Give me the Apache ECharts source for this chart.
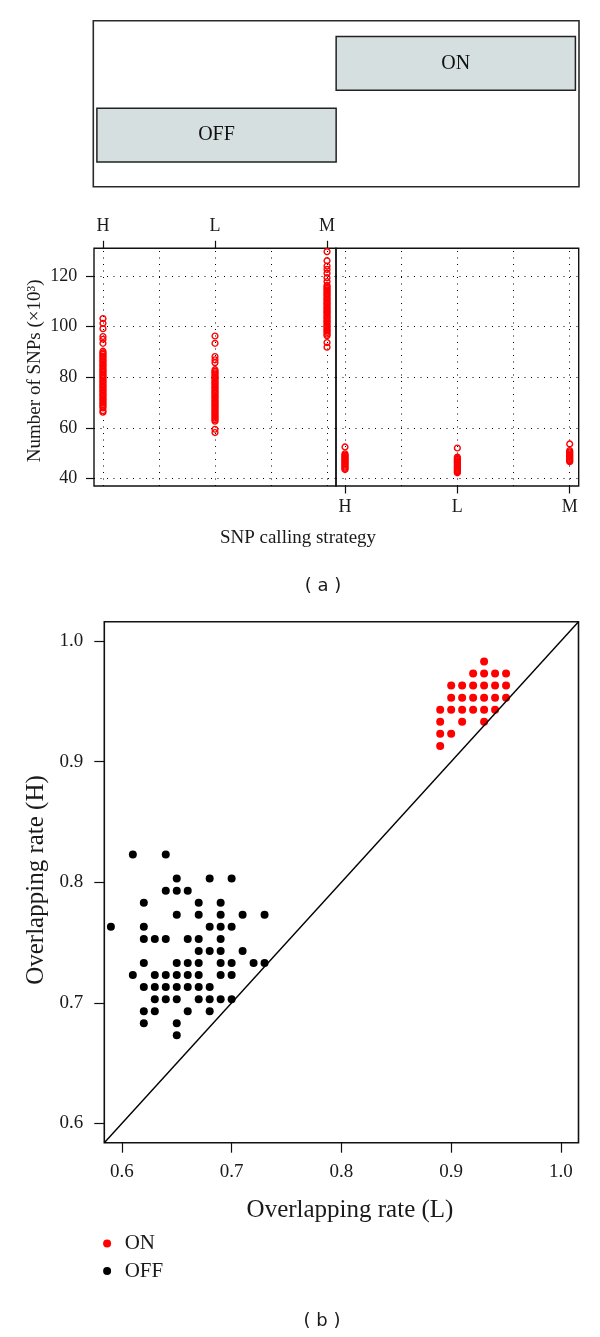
<!DOCTYPE html>
<html>
<head>
<meta charset="utf-8">
<script src="https://cdn.jsdelivr.net/npm/echarts@6/dist/echarts.min.js"></script>
<style>
  html, body { margin: 0; padding: 0; background: #fff; }
  #chart { width: 600px; height: 1337px; }
</style>
</head>
<body>
<div id="chart"></div>
<script>
// ---------- data ----------
// conditioning ("given") panel
const givenLabels = ['OFF', 'ON'];
const givenStart = [0, 1];
const givenEnd = [1, 2];

// panel (a): number of SNPs (x10^3) per calling strategy
const strategies = ['H', 'L', 'M'];
const yTicksA = [40, 60, 80, 100, 120];
const xGridA = [1, 1.5, 2, 2.5, 3];

const offH = [103.2, 101.3, 99.2, 96.1, 95.0, 93.4, 90.3, 89.6, 89.1, 88.4, 87.9, 87.2, 86.6, 86.1, 85.4, 84.8,
  84.3, 83.6, 83.0, 82.5, 81.9, 81.2, 80.7, 80.1, 79.5, 78.8, 78.3, 77.7, 77.0, 76.5, 75.9, 75.2, 74.7, 74.1,
  73.4, 72.9, 72.3, 71.6, 71.1, 70.5, 69.8, 69.2, 68.6, 67.9, 66.8, 66.2];
const offL = [96.3, 93.4, 88.2, 86.9, 85.8, 83.0, 82.4, 81.8, 81.3, 80.6, 80.0, 79.5, 78.9, 78.2, 77.7, 77.1,
  76.4, 75.9, 75.3, 74.6, 74.1, 73.5, 72.8, 72.3, 71.7, 71.0, 70.5, 69.9, 69.3, 68.7, 68.1, 67.5, 66.9, 66.3,
  65.7, 65.1, 64.5, 63.9, 63.3, 62.7, 59.5, 58.2];
const offM = [129.6, 126.0, 123.9, 122.6, 121.1, 119.3, 117.8, 116.3, 115.7, 115.1, 114.5, 113.9, 113.2, 112.7,
  112.1, 111.4, 110.9, 110.3, 109.6, 109.1, 108.5, 107.8, 107.3, 106.7, 106.0, 105.5, 104.9, 104.2, 103.7,
  103.1, 102.4, 101.9, 101.3, 100.6, 100.1, 99.5, 98.8, 98.3, 97.7, 97.0, 96.4, 93.7, 91.9];
const onH = [52.5, 49.8, 49.3, 48.9, 48.4, 48.0, 47.6, 47.1, 46.7, 46.2, 45.8, 45.4, 44.9, 44.5, 44.0, 43.6];
const onL = [52.1, 48.5, 48.0, 47.6, 47.1, 46.7, 46.3, 45.8, 45.4, 44.9, 44.5, 44.0, 43.6, 43.1, 42.7, 42.3];
const onM = [53.7, 51.1, 50.6, 50.2, 49.7, 49.3, 48.9, 48.4, 48.0, 47.5, 47.1, 46.7];

// panel (b): overlapping rates, L (x) vs H (y)
const rateTicks = [0.6, 0.7, 0.8, 0.9, 1.0];
const rateRange = [0.584, 1.016];
const onRateL = [0.93,
  0.92, 0.93, 0.94, 0.95,
  0.90, 0.91, 0.92, 0.93, 0.94, 0.95,
  0.90, 0.91, 0.92, 0.93, 0.94, 0.95,
  0.89, 0.90, 0.91, 0.92, 0.93, 0.94,
  0.89, 0.91, 0.93,
  0.89, 0.90,
  0.89];
const onRateH = [0.983,
  0.973, 0.973, 0.973, 0.973,
  0.963, 0.963, 0.963, 0.963, 0.963, 0.963,
  0.953, 0.953, 0.953, 0.953, 0.953, 0.953,
  0.943, 0.943, 0.943, 0.943, 0.943, 0.943,
  0.933, 0.933, 0.933,
  0.923, 0.923,
  0.913];
const offRateL = [0.61, 0.64,
  0.65, 0.68, 0.70,
  0.64, 0.65, 0.66,
  0.62, 0.67, 0.69,
  0.65, 0.67, 0.69, 0.71, 0.73,
  0.59, 0.62, 0.68, 0.69, 0.70,
  0.62, 0.63, 0.64, 0.66, 0.67, 0.69,
  0.67, 0.68, 0.69, 0.71,
  0.62, 0.65, 0.66, 0.67, 0.69, 0.70, 0.72, 0.73,
  0.61, 0.63, 0.64, 0.65, 0.66, 0.67, 0.69, 0.70,
  0.62, 0.63, 0.64, 0.65, 0.66, 0.67, 0.68,
  0.63, 0.64, 0.65, 0.67, 0.68, 0.69, 0.70,
  0.62, 0.63, 0.66, 0.68,
  0.62, 0.65,
  0.65];
const offRateH = [0.823, 0.823,
  0.803, 0.803, 0.803,
  0.793, 0.793, 0.793,
  0.783, 0.783, 0.783,
  0.773, 0.773, 0.773, 0.773, 0.773,
  0.763, 0.763, 0.763, 0.763, 0.763,
  0.753, 0.753, 0.753, 0.753, 0.753, 0.753,
  0.743, 0.743, 0.743, 0.743,
  0.733, 0.733, 0.733, 0.733, 0.733, 0.733, 0.733, 0.733,
  0.723, 0.723, 0.723, 0.723, 0.723, 0.723, 0.723, 0.723,
  0.713, 0.713, 0.713, 0.713, 0.713, 0.713, 0.713,
  0.703, 0.703, 0.703, 0.703, 0.703, 0.703, 0.703,
  0.693, 0.693, 0.693, 0.693,
  0.683, 0.683,
  0.673];

// ---------- chart ----------
const SERIF = '"Liberation Serif", "Times New Roman", serif';
const SANS = '"DejaVu Sans", Arial, sans-serif';
const TXT = '#1a1a1a';
const RED = '#ff0000';

const col = (idx, arr) => arr.map(v => [idx, v]);
const zip = (a, b) => a.map((v, i) => [v, b[i]]);

const openCircle = {
  type: 'scatter', symbol: 'circle', symbolSize: 5.8, z: 3, silent: true,
  itemStyle: { color: 'rgba(0,0,0,0)', borderColor: RED, borderWidth: 1.4, opacity: 1 }
};

const chart = echarts.init(document.getElementById('chart'), null, { renderer: 'canvas' });

chart.setOption({
  animation: false,
  backgroundColor: '#fff',
  grid: [
    { left: 93.3, top: 20.7, width: 485.7, height: 166, show: true, borderColor: '#2b2b2b', borderWidth: 1.6, backgroundColor: 'transparent', outerBoundsMode: 'none' },
    { left: 94, top: 248.3, width: 242, height: 237.7, show: true, borderColor: '#111', borderWidth: 1.4, backgroundColor: 'transparent', outerBoundsMode: 'none' },
    { left: 336, top: 248.3, width: 242.7, height: 237.7, show: true, borderColor: '#111', borderWidth: 1.4, backgroundColor: 'transparent', outerBoundsMode: 'none' },
    { left: 104.3, top: 621.7, width: 474.2, height: 521, show: true, borderColor: '#111', borderWidth: 1.6, backgroundColor: 'transparent', outerBoundsMode: 'none' }
  ],
  xAxis: [
    { gridIndex: 0, type: 'value', min: -0.015, max: 2.015, show: false },
    { gridIndex: 1, type: 'value', position: 'top', min: 0.92, max: 3.08,
      axisLine: { show: false }, splitLine: { show: false },
      axisTick: { show: true, length: 7.5, customValues: [1, 2, 3], lineStyle: { color: '#111', width: 1.2 } },
      axisLabel: { customValues: [1, 2, 3], margin: 13, formatter: v => strategies[Math.round(v) - 1],
        fontFamily: SERIF, fontSize: 18, color: TXT } },
    { gridIndex: 2, type: 'value', position: 'bottom', min: 0.92, max: 3.08,
      axisLine: { show: false }, splitLine: { show: false },
      axisTick: { show: true, length: 7.5, customValues: [1, 2, 3], lineStyle: { color: '#111', width: 1.2 } },
      axisLabel: { customValues: [1, 2, 3], margin: 12, formatter: v => strategies[Math.round(v) - 1],
        fontFamily: SERIF, fontSize: 18, color: TXT } },
    { gridIndex: 3, type: 'value', min: rateRange[0], max: rateRange[1],
      axisLine: { show: false }, splitLine: { show: false },
      axisTick: { show: true, length: 10, customValues: rateTicks, lineStyle: { color: '#111', width: 1.2 } },
      axisLabel: { customValues: rateTicks, margin: 19.5, formatter: v => v.toFixed(1),
        fontFamily: SERIF, fontSize: 19, color: TXT } }
  ],
  yAxis: [
    { gridIndex: 0, type: 'value', min: 0, max: 1, show: false },
    { gridIndex: 1, type: 'value', min: 37.1, max: 130.9,
      axisLine: { show: false }, splitLine: { show: false },
      axisTick: { show: true, length: 8, customValues: yTicksA, lineStyle: { color: '#111', width: 1.2 } },
      axisLabel: { customValues: yTicksA, margin: 16.7, fontFamily: SERIF, fontSize: 18, color: TXT } },
    { gridIndex: 2, type: 'value', min: 37.1, max: 130.9, show: false },
    { gridIndex: 3, type: 'value', min: rateRange[0], max: rateRange[1],
      axisLine: { show: false }, splitLine: { show: false },
      axisTick: { show: true, length: 10, customValues: rateTicks, lineStyle: { color: '#111', width: 1.2 } },
      axisLabel: { customValues: rateTicks, margin: 21, formatter: v => v.toFixed(1),
        fontFamily: SERIF, fontSize: 19, color: TXT } }
  ],
  legend: {
    data: ['ON', 'OFF'], orient: 'vertical', left: 103.1, top: 1233, padding: 0,
    itemWidth: 25.2, itemHeight: 8, itemGap: 6.5, icon: 'circle', selectedMode: false,
    itemStyle: { opacity: 1 },
    textStyle: { fontFamily: SERIF, fontSize: 21, color: TXT }
  },
  series: [
    // given panel
    {
      type: 'custom', xAxisIndex: 0, yAxisIndex: 0, silent: true,
      data: givenLabels.map((g, i) => [givenStart[i], givenEnd[i], i]),
      renderItem: function (params, api) {
        const lvl = api.value(2);
        const lo = 0.149 + lvl * 0.432, hi = lo + 0.324;
        const p1 = api.coord([api.value(0), hi]);
        const p2 = api.coord([api.value(1), lo]);
        return {
          type: 'group',
          children: [
            { type: 'rect', shape: { x: p1[0], y: p1[1], width: p2[0] - p1[0], height: p2[1] - p1[1] },
              style: { fill: '#d6dfdf', stroke: '#222', lineWidth: 1.5 } },
            { type: 'text', style: { text: givenLabels[params.dataIndex], x: (p1[0] + p2[0]) / 2, y: (p1[1] + p2[1]) / 2,
              align: 'center', verticalAlign: 'middle', fontFamily: SERIF, fontSize: 20, fill: '#111' } }
          ]
        };
      }
    },
    // dotted grids of panel (a)
    {
      type: 'scatter', xAxisIndex: 1, yAxisIndex: 1, data: [], silent: true, z: 1,
      markLine: { silent: true, z: 1, symbol: 'none', label: { show: false },
        lineStyle: { color: '#000', type: [1, 5.5], width: 1 },
        data: xGridA.map(v => ({ xAxis: v })).concat(yTicksA.map(v => ({ yAxis: v }))) }
    },
    {
      type: 'scatter', xAxisIndex: 2, yAxisIndex: 2, data: [], silent: true, z: 1,
      markLine: { silent: true, z: 1, symbol: 'none', label: { show: false },
        lineStyle: { color: '#000', type: [1, 5.5], width: 1 },
        data: xGridA.map(v => ({ xAxis: v })).concat(yTicksA.map(v => ({ yAxis: v }))) }
    },
    // panel (a) points
    Object.assign({}, openCircle, { name: 'a-OFF-H', xAxisIndex: 1, yAxisIndex: 1, data: col(1, offH) }),
    Object.assign({}, openCircle, { name: 'a-OFF-L', xAxisIndex: 1, yAxisIndex: 1, data: col(2, offL) }),
    Object.assign({}, openCircle, { name: 'a-OFF-M', xAxisIndex: 1, yAxisIndex: 1, data: col(3, offM) }),
    Object.assign({}, openCircle, { name: 'a-ON-H', xAxisIndex: 2, yAxisIndex: 2, data: col(1, onH) }),
    Object.assign({}, openCircle, { name: 'a-ON-L', xAxisIndex: 2, yAxisIndex: 2, data: col(2, onL) }),
    Object.assign({}, openCircle, { name: 'a-ON-M', xAxisIndex: 2, yAxisIndex: 2, data: col(3, onM) }),
    // panel (b)
    { name: 'ON', type: 'scatter', xAxisIndex: 3, yAxisIndex: 3, symbol: 'circle', symbolSize: 8, silent: true,
      itemStyle: { color: RED, opacity: 1 }, data: zip(onRateL, onRateH) },
    { name: 'OFF', type: 'scatter', xAxisIndex: 3, yAxisIndex: 3, symbol: 'circle', symbolSize: 8, silent: true,
      itemStyle: { color: '#000', opacity: 1 }, data: zip(offRateL, offRateH) },
    { name: 'y=x', type: 'line', xAxisIndex: 3, yAxisIndex: 3, silent: true, showSymbol: false, z: 4,
      lineStyle: { color: '#000', width: 1.4 }, data: [[rateRange[0], rateRange[0]], [rateRange[1], rateRange[1]]] }
  ],
  graphic: [
    { type: 'text', x: 298, y: 538.3, silent: true,
      style: { text: 'SNP calling strategy', align: 'center', verticalAlign: 'middle', fontFamily: SERIF, fontSize: 19, fill: TXT } },
    { type: 'text', x: 35, y: 370.8, rotation: Math.PI / 2, silent: true,
      style: { text: 'Number of SNPs (×10³)', align: 'center', verticalAlign: 'middle', fontFamily: SERIF, fontSize: 19, fill: TXT } },
    { type: 'text', x: 323, y: 586.7, silent: true,
      style: { text: '( a )', align: 'center', verticalAlign: 'middle', fontFamily: SANS, fontSize: 18, fill: TXT } },
    { type: 'text', x: 350, y: 1210, silent: true,
      style: { text: 'Overlapping rate (L)', align: 'center', verticalAlign: 'middle', fontFamily: SERIF, fontSize: 25, fill: TXT } },
    { type: 'text', x: 36, y: 880, rotation: Math.PI / 2, silent: true,
      style: { text: 'Overlapping rate (H)', align: 'center', verticalAlign: 'middle', fontFamily: SERIF, fontSize: 25, fill: TXT } },
    { type: 'text', x: 322, y: 1321, silent: true,
      style: { text: '( b )', align: 'center', verticalAlign: 'middle', fontFamily: SANS, fontSize: 18, fill: TXT } }
  ]
});
</script>
</body>
</html>
